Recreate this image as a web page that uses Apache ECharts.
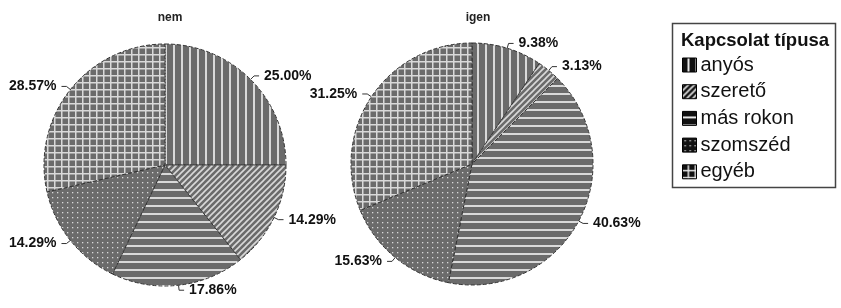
<!DOCTYPE html>
<html>
<head>
<meta charset="utf-8">
<script src="https://cdn.jsdelivr.net/npm/echarts@6/dist/echarts.min.js"></script>
<style>
  html, body { margin: 0; padding: 0; background: #fff; }
  #chart { width: 841px; height: 308px; }
</style>
</head>
<body>
<div id="chart"></div>
<script>
var categories = ['anyós', 'szerető', 'más rokon', 'szomszéd', 'egyéb']
var nemValues = [25.00, 14.29, 17.86, 14.29, 28.57]
var igenValues = [9.38, 3.13, 40.63, 15.63, 31.25]
var pieTitles = ['nem', 'igen']
var legendTitle = 'Kapcsolat típusa'

// hatch patterns drawn on small canvases
function makePattern(kind, bg, fg) {
  var size = { vert: 8, diag: 6, horiz: 8, dots: 5, grid: 7 }[kind]
  var c = document.createElement('canvas')
  c.width = size
  c.height = size
  var ctx = c.getContext('2d')
  ctx.fillStyle = bg
  ctx.fillRect(0, 0, size, size)
  ctx.fillStyle = fg
  ctx.strokeStyle = fg
  if (kind === 'vert') {
    ctx.fillRect(5, 0, 2, size)
  } else if (kind === 'horiz') {
    ctx.fillRect(0, 5, size, 2)
  } else if (kind === 'grid') {
    ctx.fillRect(5, 0, 1.5, size)
    ctx.fillRect(0, 5, size, 1.5)
  } else if (kind === 'dots') {
    ctx.fillRect(2, 2, 1.3, 1.3)
  } else if (kind === 'diag') {
    ctx.lineWidth = 1.6
    ctx.beginPath()
    ctx.moveTo(-1, size + 1)
    ctx.lineTo(size + 1, -1)
    ctx.moveTo(-1, 1)
    ctx.lineTo(1, -1)
    ctx.moveTo(size - 1, size + 1)
    ctx.lineTo(size + 1, size - 1)
    ctx.stroke()
  }
  return { image: c, repeat: 'repeat' }
}

var kinds = ['vert', 'diag', 'horiz', 'dots', 'grid']
var sliceFills = kinds.map(function(k) { return makePattern(k, '#6b6b6b', '#d9d9d9') })
var iconFills = kinds.map(function(k) { return makePattern(k, '#111', '#e8e8e8') })

function buildData(values) {
  return values.map(function(v, i) {
    return { name: categories[i], value: v, itemStyle: { color: sliceFills[i] } }
  })
}

function pieSeries(values, center) {
  return {
    type: 'pie',
    center: center,
    radius: 121,
    startAngle: 90,
    clockwise: true,
    avoidLabelOverlap: false,
    animation: false,
    data: buildData(values),
    itemStyle: {
      borderColor: '#333',
      borderWidth: 1,
      borderType: 'dashed'
    },
    label: {
      formatter: function(p) { return p.value.toFixed(2) + '%' },
      color: '#111',
      fontFamily: 'Liberation Sans, Arial',
      fontWeight: 'bold',
      fontSize: 14
    },
    labelLine: {
      length: 5,
      length2: 5,
      lineStyle: { color: '#333', width: 1 }
    },
    emphasis: { disabled: true }
  }
}

var chart = echarts.init(document.getElementById('chart'))
chart.setOption({
  backgroundColor: '#fff',
  title: [
    { text: pieTitles[0], left: 165, top: 7, textAlign: 'center',
      textStyle: { fontSize: 12, fontWeight: 'bold', color: '#222', fontFamily: 'Liberation Sans, Arial' } },
    { text: pieTitles[1], left: 473, top: 7, textAlign: 'center',
      textStyle: { fontSize: 12, fontWeight: 'bold', color: '#222', fontFamily: 'Liberation Sans, Arial' } }
  ],
  graphic: [
    {
      type: 'rect',
      shape: { x: 672.5, y: 23.5, width: 163, height: 164 },
      style: { fill: '#fff', stroke: '#444', lineWidth: 1.5 },
      z: 0
    },
    {
      type: 'text',
      left: 681,
      top: 31,
      style: {
        text: legendTitle,
        font: 'bold 18.5px Liberation Sans, Arial',
        fill: '#111'
      },
      z: 10
    }
  ],
  legend: {
    orient: 'vertical',
    left: 682,
    top: 55,
    padding: 0,
    itemWidth: 14,
    itemHeight: 14,
    itemGap: 6.7,
    selectedMode: false,
    data: categories.map(function(c, i) {
      return { name: c, icon: 'rect', itemStyle: { color: iconFills[i], borderColor: '#000', borderWidth: 1 } }
    }),
    textStyle: {
      fontSize: 20,
      color: '#111',
      fontFamily: 'Liberation Sans, Arial',
      padding: [0, 0, 0, -1]
    },
    z: 10
  },
  series: [
    pieSeries(nemValues, [165, 165]),
    pieSeries(igenValues, [472, 164])
  ]
})
</script>
</body>
</html>
